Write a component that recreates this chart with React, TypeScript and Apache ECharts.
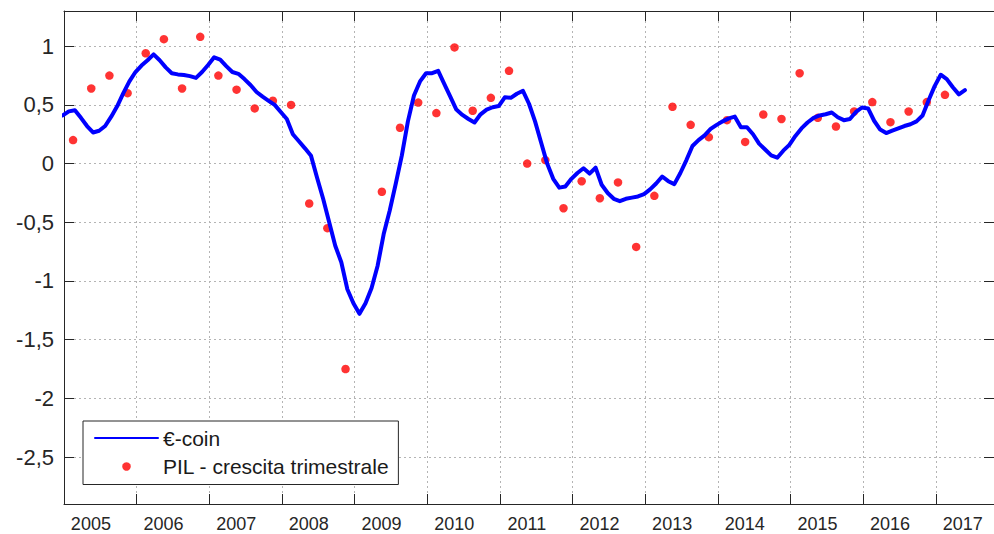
import { useEffect, useRef } from 'react';
import * as echarts from 'echarts';

// €-coin monthly indicator, first value = December 2004
const ECOIN_START_YEAR = 2004;
const ECOIN_START_MONTH = 12;
const ecoinValues = [
  0.41, 0.445, 0.455, 0.39, 0.32, 0.265, 0.28, 0.32, 0.4, 0.49, 0.6, 0.7,
  0.78, 0.835, 0.88, 0.93, 0.88, 0.82, 0.77, 0.76, 0.755, 0.745, 0.73, 0.78,
  0.84, 0.905, 0.885, 0.83, 0.78, 0.765, 0.72, 0.67, 0.61, 0.57, 0.535, 0.5,
  0.44, 0.38, 0.25, 0.19, 0.13, 0.066, -0.12, -0.3, -0.5, -0.7, -0.84, -1.07,
  -1.19, -1.28, -1.19, -1.06, -0.87, -0.6, -0.4, -0.17, 0.07, 0.36, 0.58, 0.7,
  0.77, 0.77, 0.79, 0.68, 0.57, 0.46, 0.415, 0.38, 0.35, 0.42, 0.46, 0.48,
  0.49, 0.565, 0.56, 0.595, 0.62, 0.51, 0.36, 0.18, 0.0, -0.13, -0.205, -0.195,
  -0.13, -0.08, -0.04, -0.085, -0.035, -0.18, -0.25, -0.3, -0.32, -0.3, -0.29, -0.28,
  -0.26, -0.22, -0.17, -0.11, -0.15, -0.175, -0.08, 0.03, 0.15, 0.2, 0.24, 0.295,
  0.33, 0.36, 0.385, 0.4, 0.31, 0.31, 0.25, 0.17, 0.12, 0.07, 0.05, 0.11,
  0.16, 0.236, 0.3, 0.35, 0.39, 0.41, 0.42, 0.435, 0.395, 0.37, 0.38, 0.44,
  0.478, 0.47, 0.365, 0.29, 0.26, 0.28, 0.3, 0.32, 0.335, 0.36, 0.41, 0.54,
  0.66, 0.757, 0.72, 0.65, 0.59, 0.626,
];

// PIL quarterly growth, first value = 2005 Q1
const PIL_START_YEAR = 2005;
const pilValues = [
  0.2, 0.64, 0.75, 0.6,
  0.94, 1.06, 0.64, 1.08,
  0.75, 0.63, 0.47, 0.535,
  0.5, -0.34, -0.55, -1.75,
  -2.6, -0.24, 0.305, 0.52,
  0.43, 0.99, 0.45, 0.56,
  0.79, 0.0, 0.03, -0.38,
  -0.15, -0.295, -0.16, -0.71,
  -0.275, 0.484, 0.33, 0.225,
  0.37, 0.185, 0.418, 0.38,
  0.77, 0.39, 0.316, 0.444,
  0.524, 0.353, 0.444, 0.524,
  0.586,
];

const yearLabels = [2005, 2006, 2007, 2008, 2009, 2010, 2011, 2012, 2013, 2014, 2015, 2016, 2017];
const yTickValues = [-2.5, -2, -1.5, -1, -0.5, 0, 0.5, 1];

const SERIES_LINE = '€-coin';
const SERIES_DOTS = 'PIL - crescita trimestrale';

const X_MIN = 2005;
const X_MAX = 2017.8;
const Y_MIN = -2.9;
const Y_MAX = 1.3;

const FONT = '"Liberation Sans", Arial, Helvetica, sans-serif';
const AXIS_COLOR = '#262626';

function monthPos(i: number): number {
  const total = ECOIN_START_YEAR * 12 + (ECOIN_START_MONTH - 1) + i;
  const year = Math.floor(total / 12);
  const month = (total % 12) + 1;
  return year + (month - 0.2) / 12;
}

function quarterPos(i: number): number {
  const year = PIL_START_YEAR + Math.floor(i / 4);
  const q = (i % 4) + 1;
  return year + (q - 0.5) / 4;
}

export default function App() {
  const ref = useRef<HTMLDivElement>(null);

  useEffect(() => {
    if (!ref.current) return;
    const chart = echarts.init(ref.current, null, { renderer: 'svg' });

    const lineData = ecoinValues.map((v, i) => [monthPos(i), v]);
    const dotData = pilValues.map((v, i) => [quarterPos(i), v]);
    const labelPositions = yearLabels.map((y) => y + 0.37);

    const option: any = {
      animation: false,
      backgroundColor: '#ffffff',
      grid: { left: 64, top: 11, right: -1, bottom: 30, containLabel: false },
      legend: {
        orient: 'vertical',
        left: 83,
        top: 421,
        padding: [5, 9, 6, 11],
        itemGap: 4.5,
        itemWidth: 63,
        itemHeight: 8.5,
        borderColor: AXIS_COLOR,
        borderWidth: 1,
        backgroundColor: '#ffffff',
        selectedMode: false,
        textStyle: { fontFamily: FONT, fontSize: 21, lineHeight: 24, color: '#1a1a1a' },
        data: [
          { name: SERIES_LINE, itemStyle: { opacity: 0 } },
          { name: SERIES_DOTS, icon: 'circle' },
        ],
      },
      xAxis: [
        {
          type: 'value',
          position: 'bottom',
          min: X_MIN,
          max: X_MAX,
          interval: 1,
          axisLine: { show: true, onZero: false, lineStyle: { color: AXIS_COLOR, width: 1 } },
          axisTick: { show: true, inside: true, length: 10, lineStyle: { color: AXIS_COLOR } },
          axisLabel: { show: false },
          splitLine: { show: true, lineStyle: { type: [2, 3], color: '#b4b4b4', width: 1 } },
        },
        {
          type: 'value',
          position: 'top',
          min: X_MIN,
          max: X_MAX,
          interval: 1,
          axisLine: { show: true, onZero: false, lineStyle: { color: AXIS_COLOR, width: 1 } },
          axisTick: { show: true, inside: true, length: 10, lineStyle: { color: AXIS_COLOR } },
          axisLabel: { show: false },
          splitLine: { show: false },
        },
        {
          type: 'value',
          position: 'bottom',
          min: X_MIN,
          max: X_MAX,
          axisLine: { show: false, onZero: false },
          axisTick: { show: false },
          splitLine: { show: false },
          axisLabel: {
            show: true,
            customValues: labelPositions,
            formatter: (v: number) => String(Math.floor(v)),
            fontFamily: FONT,
            fontSize: 18,
            color: AXIS_COLOR,
            margin: 11,
          },
        },
      ],
      yAxis: [
        {
          type: 'value',
          position: 'left',
          min: Y_MIN,
          max: Y_MAX,
          splitNumber: 8,
          axisLine: { show: true, onZero: false, lineStyle: { color: AXIS_COLOR, width: 1 } },
          axisTick: {
            show: true,
            inside: true,
            length: 10,
            customValues: yTickValues,
            lineStyle: { color: AXIS_COLOR },
          },
          axisLabel: {
            show: true,
            customValues: yTickValues,
            formatter: (v: number) => String(v).replace('.', ','),
            fontFamily: FONT,
            fontSize: 22,
            color: AXIS_COLOR,
            margin: 10,
          },
          splitLine: { show: true, lineStyle: { type: [2, 3], color: '#b4b4b4', width: 1 } },
        },
        {
          type: 'value',
          position: 'right',
          min: Y_MIN,
          max: Y_MAX,
          splitNumber: 8,
          axisLine: { show: true, onZero: false, lineStyle: { color: AXIS_COLOR, width: 1 } },
          axisTick: {
            show: true,
            inside: true,
            length: 10,
            customValues: yTickValues,
            lineStyle: { color: AXIS_COLOR },
          },
          axisLabel: { show: false },
          splitLine: { show: false },
        },
      ],
      series: [
        {
          name: SERIES_LINE,
          type: 'line',
          xAxisIndex: 0,
          yAxisIndex: 0,
          data: lineData,
          showSymbol: false,
          symbol: 'none',
          clip: true,
          lineStyle: { color: '#0000ff', width: 4, join: 'round', cap: 'round' },
          itemStyle: { color: '#0000ff' },
          z: 3,
        },
        {
          name: SERIES_DOTS,
          type: 'scatter',
          xAxisIndex: 0,
          yAxisIndex: 0,
          data: dotData,
          symbol: 'circle',
          symbolSize: 8.5,
          itemStyle: { color: '#ff0000' },
          z: 2,
        },
      ],
    };

    chart.setOption(option);
    return () => chart.dispose();
  }, []);

  return (
    <div
      ref={ref}
      style={{ position: 'absolute', left: 0, top: 0, width: 994, height: 534, overflow: 'hidden' }}
    />
  );
}
